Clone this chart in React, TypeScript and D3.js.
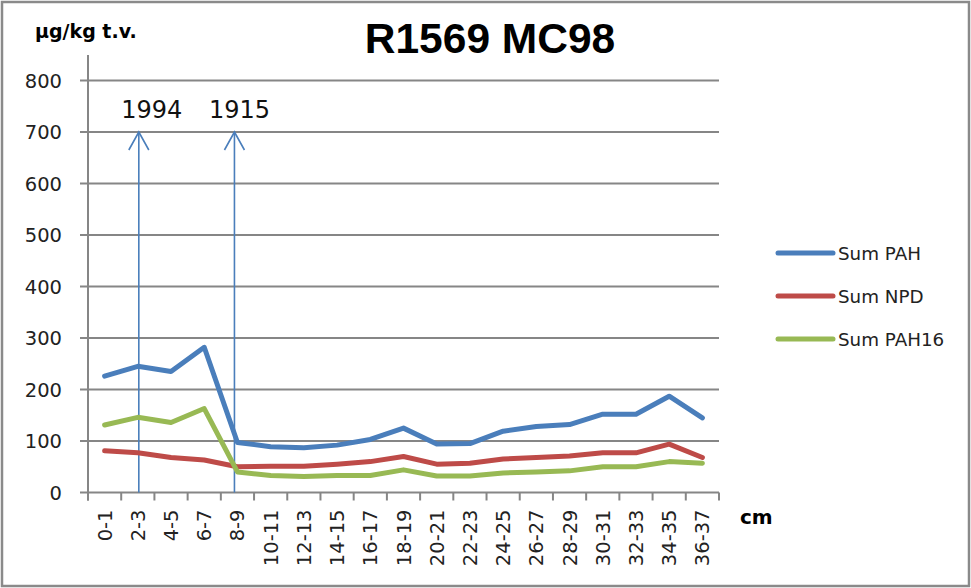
import { useEffect, useRef } from 'react';
import * as d3 from 'd3';

const categories = [
  '0-1', '2-3', '4-5', '6-7', '8-9', '10-11', '12-13', '14-15', '16-17', '18-19',
  '20-21', '22-23', '24-25', '26-27', '28-29', '30-31', '32-33', '34-35', '36-37'
];
const sumPAH = [226, 245, 235, 282, 97, 89, 87, 92, 103, 125, 94, 95, 119, 128, 132, 152, 152, 187, 145];
const sumNPD = [81, 77, 68, 63, 50, 51, 51, 55, 60, 70, 55, 57, 65, 68, 71, 77, 77, 94, 68];
const sumPAH16 = [131, 146, 136, 163, 40, 33, 31, 33, 33, 44, 32, 32, 38, 40, 42, 50, 50, 60, 57];
const yTicks = [0, 100, 200, 300, 400, 500, 600, 700, 800];
const markers = [
  { label: '1994', category: '2-3' },
  { label: '1915', category: '8-9' }
];

const series = [
  { name: 'Sum PAH', values: sumPAH, color: '#4A7EBB' },
  { name: 'Sum NPD', values: sumNPD, color: '#BE4B48' },
  { name: 'Sum PAH16', values: sumPAH16, color: '#98B954' }
];

const W = 971;
const H = 588;
const FONT = '"DejaVu Sans", Verdana, sans-serif';
const TITLE_FONT = '"Liberation Sans", Arial, sans-serif';

export default function App() {
  const svgRef = useRef<SVGSVGElement>(null);

  useEffect(() => {
    if (!svgRef.current) return;
    const svg = d3.select(svgRef.current);
    svg.selectAll('*').remove();

    const left = 88, right = 719, top = 80.5, bottom = 492.5;
    const grid = '#868686';

    const x = d3.scaleBand<string>().domain(categories).range([left, right]);
    const y = d3.scaleLinear().domain([0, 800]).range([bottom, top]);
    const cx = (c: string) => (x(c) ?? 0) + x.bandwidth() / 2;

    // outer frame
    svg.append('rect')
      .attr('x', 2).attr('y', 2).attr('width', W - 4).attr('height', H - 4)
      .attr('fill', 'white').attr('stroke', '#8a8a8a').attr('stroke-width', 2.5);

    // title
    svg.append('text')
      .attr('x', 490).attr('y', 53)
      .attr('text-anchor', 'middle')
      .style('font-family', TITLE_FONT).style('font-size', '42.5px').style('font-weight', 'bold')
      .text('R1569 MC98');

    svg.append('text')
      .attr('x', 35).attr('y', 38)
      .style('font-family', FONT).style('font-size', '19px').style('font-weight', 'bold')
      .text('µg/kg t.v.');

    // gridlines + y ticks
    svg.append('g').selectAll('line')
      .data(yTicks.filter(t => t > 0))
      .enter().append('line')
      .attr('x1', left - 8).attr('x2', right)
      .attr('y1', d => y(d)).attr('y2', d => y(d))
      .attr('stroke', grid).attr('stroke-width', 2);

    svg.append('g').selectAll('text')
      .data(yTicks)
      .enter().append('text')
      .attr('x', 62).attr('y', d => y(d))
      .attr('dy', '0.36em')
      .attr('text-anchor', 'end')
      .style('font-family', FONT).style('font-size', '19.5px').style('fill', '#222')
      .text(d => d);

    // axes
    svg.append('line')
      .attr('x1', left).attr('x2', left).attr('y1', 55).attr('y2', bottom + 8)
      .attr('stroke', grid).attr('stroke-width', 2);
    svg.append('line')
      .attr('x1', left - 8).attr('x2', right).attr('y1', bottom).attr('y2', bottom)
      .attr('stroke', grid).attr('stroke-width', 2);

    const edges = categories.map(c => x(c) ?? 0).concat([right]);
    svg.append('g').selectAll('line')
      .data(edges)
      .enter().append('line')
      .attr('x1', d => d).attr('x2', d => d)
      .attr('y1', bottom).attr('y2', bottom + 8)
      .attr('stroke', grid).attr('stroke-width', 2);

    // x labels
    svg.append('g').selectAll('text')
      .data(categories)
      .enter().append('text')
      .attr('transform', d => `translate(${cx(d)},${bottom + 17}) rotate(-90)`)
      .attr('dy', '0.36em')
      .attr('text-anchor', 'end')
      .style('font-family', FONT).style('font-size', '19.5px').style('fill', '#222')
      .text(d => d);

    svg.append('text')
      .attr('x', 740).attr('y', 524)
      .style('font-family', FONT).style('font-size', '20px').style('font-weight', 'bold')
      .text('cm');

    // marker arrows
    const mk = svg.append('g');
    markers.forEach((m, i) => {
      const mx = cx(m.category) + (i === 0 ? 1 : -3);
      mk.append('line')
        .attr('x1', mx).attr('x2', mx).attr('y1', bottom).attr('y2', y(700))
        .attr('stroke', '#4A7EBB').attr('stroke-width', 1.6);
      mk.append('path')
        .attr('d', `M${mx - 10},${y(700) + 18}L${mx},${y(700)}L${mx + 10},${y(700) + 18}`)
        .attr('fill', 'none').attr('stroke', '#4A7EBB').attr('stroke-width', 1.6);
      mk.append('text')
        .attr('x', mx + (i === 0 ? 13 : 5)).attr('y', 118)
        .attr('text-anchor', 'middle')
        .style('font-family', FONT).style('font-size', '24px').style('fill', '#111')
        .text(m.label);
    });

    // series lines
    const line = d3.line<number>()
      .x((_, i) => cx(categories[i]))
      .y(d => y(d));

    svg.append('g').selectAll('path')
      .data(series)
      .enter().append('path')
      .attr('d', d => line(d.values))
      .attr('fill', 'none')
      .attr('stroke', d => d.color)
      .attr('stroke-width', 5)
      .attr('stroke-linejoin', 'round')
      .attr('stroke-linecap', 'round');

    // legend
    const lg = svg.append('g').selectAll('g')
      .data(series)
      .enter().append('g')
      .attr('transform', (_, i) => `translate(778,${253 + i * 43})`);
    lg.append('line')
      .attr('x1', 0).attr('x2', 55)
      .attr('stroke', d => d.color).attr('stroke-width', 5).attr('stroke-linecap', 'round');
    lg.append('text')
      .attr('x', 60).attr('dy', '0.36em')
      .style('font-family', FONT).style('font-size', '18.3px').style('fill', '#222')
      .text(d => d.name);
  }, []);

  return (
    <div style={{ position: 'absolute', left: 0, top: 0 }}>
      <svg ref={svgRef} width={W} height={H} style={{ display: 'block' }} />
    </div>
  );
}
